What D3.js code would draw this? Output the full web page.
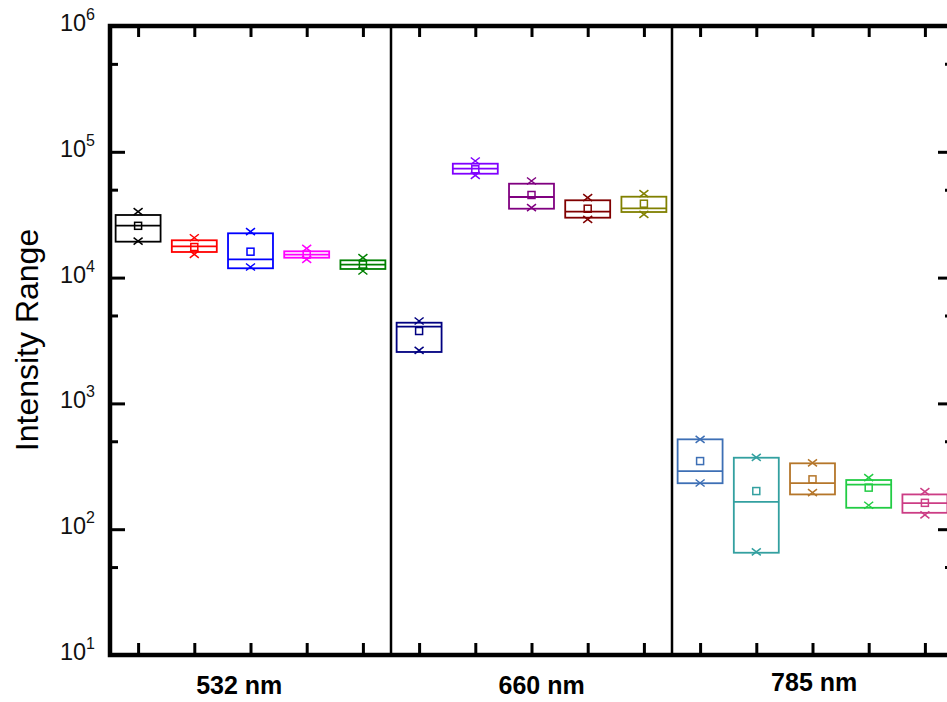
<!DOCTYPE html>
<html>
<head>
<meta charset="utf-8">
<script src="https://cdn.jsdelivr.net/npm/d3@7"></script>
<style>
  body { margin: 0; background: #fff; }
  text { font-family: "Liberation Sans", Arial, sans-serif; }
</style>
</head>
<body>
<div id="viz"></div>
<script>
// data (log scale intensity range)
const groups = ["532 nm", "660 nm", "785 nm"];
const groupLabelPos = [2.8, 8.18, 13.03];
const positions = d3.range(1, 16);
const colors = ["#000000", "#ff0000", "#0000ff", "#ff00ff", "#008000",
                "#000080", "#8000ff", "#800080", "#800000", "#808000",
                "#3d6fb5", "#33a0a0", "#b5762a", "#22cc44", "#cc3d85"];
const q3     = [31450, 19800, 22500, 16180, 13720, 4380, 80440, 55770, 41170, 43960, 518, 370, 334, 246, 189];
const q1     = [19300, 15980, 11860, 14390, 11710, 2563, 66960, 35290, 29940, 33220, 232, 65, 189, 148, 135];
const median = [25860, 17740, 13980, 15210, 12660, 4070, 73400, 43720, 33410, 35550, 290, 165, 232, 226, 161];
const mean   = [25800, 17500, 16070, 15210, 12700, 3763, 72600, 45360, 35290, 38670, 348, 201, 249, 214, 162];
const maxV   = [33400, 20750, 23170, 17090, 14390, 4519, 84500, 58620, 43160, 46450, 518, 372, 337, 257, 199];
const minV   = [19500, 15320, 12140, 13980, 11290, 2642, 65030, 35940, 29070, 31850, 233, 66, 195, 155, 130];
const yMajor = [1e1, 1e2, 1e3, 1e4, 1e5, 1e6];
const yMinor = [5e1, 5e2, 5e3, 5e4, 5e5];

const dims = { width: 947, height: 702, left: 110, right: 953, top: 26, bottom: 655 };

const svg = d3.select("#viz").append("svg")
    .attr("width", dims.width)
    .attr("height", dims.height)
    .style("display", "block")
    .style("background", "#fff");

const x = d3.scaleLinear().domain([0.5, 15.5]).range([dims.left, dims.right]);
const y = d3.scaleLog().domain([10, 1e6]).range([dims.bottom, dims.top]);

const step = x(2) - x(1);
const boxW = step * 0.8;

// group dividers
svg.append("g").selectAll("line")
    .data([5.5, 10.5])
    .join("line")
    .attr("x1", d => x(d)).attr("x2", d => x(d))
    .attr("y1", dims.top).attr("y2", dims.bottom)
    .attr("stroke", "#000").attr("stroke-width", 2.5);

// axes ticks (pointing inward)
function styleAxis(g) {
    g.select(".domain").remove();
    g.selectAll(".tick line").attr("stroke", "#000").attr("stroke-width", 3);
    g.selectAll(".tick text").remove();
}
svg.append("g").attr("transform", `translate(0,${dims.bottom})`)
    .call(d3.axisBottom(x).tickValues(positions).tickSize(-12).tickSizeOuter(0)).call(styleAxis);
svg.append("g").attr("transform", `translate(0,${dims.top})`)
    .call(d3.axisTop(x).tickValues(positions).tickSize(-11).tickSizeOuter(0)).call(styleAxis);
svg.append("g").attr("transform", `translate(${dims.left},0)`)
    .call(d3.axisLeft(y).tickValues(yMajor).tickSize(-15).tickSizeOuter(0)).call(styleAxis);
svg.append("g").attr("transform", `translate(${dims.left},0)`)
    .call(d3.axisLeft(y).tickValues(yMinor).tickSize(-8).tickSizeOuter(0)).call(styleAxis);
svg.append("g").attr("transform", `translate(${dims.right},0)`)
    .call(d3.axisRight(y).tickValues(yMajor).tickSize(-15).tickSizeOuter(0)).call(styleAxis);
svg.append("g").attr("transform", `translate(${dims.right},0)`)
    .call(d3.axisRight(y).tickValues(yMinor).tickSize(-8).tickSizeOuter(0)).call(styleAxis);

// frame
svg.append("rect")
    .attr("x", dims.left).attr("y", dims.top)
    .attr("width", dims.right - dims.left).attr("height", dims.bottom - dims.top)
    .attr("fill", "none").attr("stroke", "#000").attr("stroke-width", 4.5);

// y tick labels 10^n
const yl = svg.append("g").selectAll("text")
    .data(yMajor)
    .join("text")
    .attr("x", 95)
    .attr("y", d => y(d) + 5)
    .attr("text-anchor", "end")
    .attr("font-size", "23.5px")
    .attr("fill", "#111");
yl.append("tspan").text("10");
yl.append("tspan").attr("dy", -11).attr("font-size", "16px").text(d => Math.round(Math.log10(d)));

// y axis title
svg.append("text")
    .attr("transform", `translate(38,${340}) rotate(-90)`)
    .attr("text-anchor", "middle")
    .attr("font-size", "32px")
    .text("Intensity Range");

// group labels
svg.append("g").selectAll("text")
    .data(groups)
    .join("text")
    .attr("x", (d, i) => x(groupLabelPos[i]))
    .attr("y", (d, i) => i === 2 ? 691 : 694)
    .attr("text-anchor", "middle")
    .attr("font-size", "25px")
    .attr("font-weight", "bold")
    .text(d => d);

// boxes
const boxes = svg.append("g").selectAll("g.box")
    .data(positions)
    .join("g")
    .attr("class", "box")
    .attr("fill", "none")
    .attr("stroke", (d, i) => colors[i])
    .attr("stroke-width", 1.8);

boxes.append("rect")
    .attr("x", d => x(d) - boxW / 2)
    .attr("width", boxW)
    .attr("y", (d, i) => y(q3[i]))
    .attr("height", (d, i) => y(q1[i]) - y(q3[i]));

boxes.append("line")
    .attr("x1", d => x(d) - boxW / 2).attr("x2", d => x(d) + boxW / 2)
    .attr("y1", (d, i) => y(median[i])).attr("y2", (d, i) => y(median[i]));

boxes.append("rect")
    .attr("x", d => x(d) - 3.5).attr("width", 7)
    .attr("y", (d, i) => y(mean[i]) - 3.5).attr("height", 7)
    .attr("stroke-width", 1.5);

const cross = d3.path();
cross.moveTo(-4.5, -3.5); cross.lineTo(4.5, 3.5);
cross.moveTo(-4.5, 3.5); cross.lineTo(4.5, -3.5);
[maxV, minV].forEach(arr => {
    boxes.append("path")
        .attr("d", cross.toString())
        .attr("stroke-width", 1.5)
        .attr("transform", (d, i) => `translate(${x(d)},${y(arr[i])})`);
});
</script>
</body>
</html>
